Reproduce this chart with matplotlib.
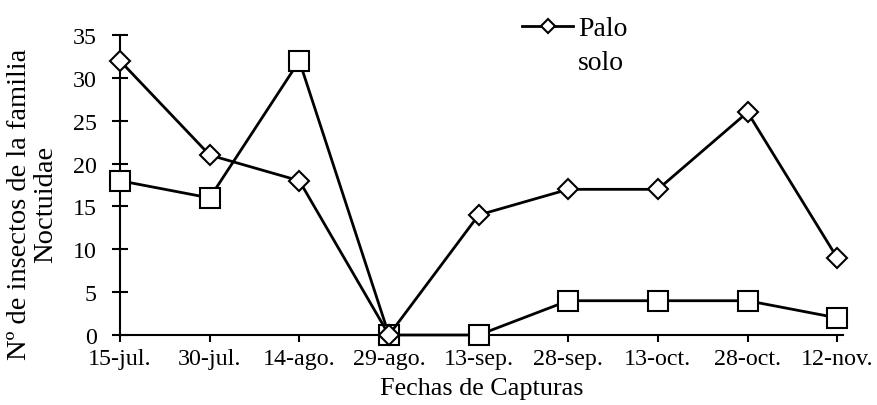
import matplotlib
matplotlib.use('Agg')
import matplotlib.pyplot as plt

plt.rcParams['font.family'] = ['Liberation Serif', 'DejaVu Serif']

fechas = ['15-jul.', '30-jul.', '14-ago.', '29-ago.', '13-sep.',
          '28-sep.', '13-oct.', '28-oct.', '12-nov.']
palo_solo = [32, 21, 18, 0, 14, 17, 17, 26, 9]
otro = [18, 16, 32, 0, 0, 4, 4, 4, 2]

fig = plt.figure(figsize=(8.78, 4.06), dpi=100)
ax = fig.add_axes([0.1367, 0.1724, 0.824, 0.7387])

x = list(range(len(fechas)))
ax.plot(x, otro, color='black', lw=2, marker='s', markersize=14.5,
        markerfacecolor='white', markeredgecolor='black', markeredgewidth=1.5,
        clip_on=False, zorder=3)
ax.plot(x, palo_solo, color='black', lw=2, marker='D', markersize=10.5,
        markerfacecolor='white', markeredgecolor='black', markeredgewidth=1.5,
        clip_on=False, zorder=4, label='Palo')

ax.set_xlim(0, 8.07)
ax.set_ylim(0, 35)
ax.set_xticks(x)
ax.set_xticklabels(fechas)
ax.set_yticks(range(0, 36, 5))

for s in ['top', 'right']:
    ax.spines[s].set_visible(False)
for s in ['left', 'bottom']:
    ax.spines[s].set_linewidth(1.5)

ax.tick_params(axis='y', direction='inout', length=11.5, width=1.5, labelsize=17.3, pad=11)
ax.tick_params(axis='x', direction='out', length=5, width=1.5, labelsize=17.3, pad=4)

ax.set_xlabel('Fechas de Capturas', fontsize=18.8, labelpad=6)
ax.set_ylabel('Nº de insectos de la familia\nNoctuidae', fontsize=20.5,
              linespacing=1.05)
ax.yaxis.set_label_coords(-0.0856, 0.44)

ax.legend(loc='upper left', bbox_to_anchor=(0.5945, 0.958), bbox_transform=fig.transFigure,
          frameon=False, fontsize=20, handlelength=1.84, handletextpad=0.18,
          borderpad=0, borderaxespad=0, markerscale=0.72)
fig.text(578 / 878, 1 - 63 / 406, 'solo', fontsize=20, ha='left', va='center')

fig.savefig('out.png', dpi=100)
